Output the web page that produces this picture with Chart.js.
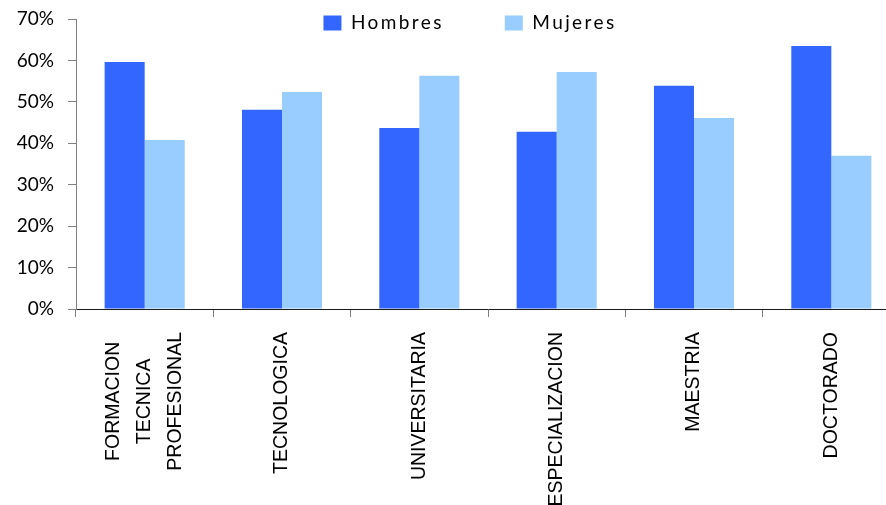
<!DOCTYPE html>
<html>
<head>
<meta charset="utf-8">
<script src="https://cdn.jsdelivr.net/npm/chart.js@4.4.1/dist/chart.umd.min.js"></script>
<style>
  html, body { margin: 0; padding: 0; background: #fff; overflow: hidden; }
  #wrap { width: 900px; height: 505px; }
</style>
</head>
<body>
<div id="wrap"><canvas id="chart" width="900" height="505"></canvas></div>
<script>
const categories = [
  ["FORMACION", "TECNICA", "PROFESIONAL"],
  "TECNOLOGICA",
  "UNIVERSITARIA",
  "ESPECIALIZACION",
  "MAESTRIA",
  "DOCTORADO"
]
const hombres = [59.6, 48.1, 43.7, 42.8, 53.9, 63.5]
const mujeres = [40.8, 52.4, 56.3, 57.2, 46.1, 37.0]
const yTicks = [0, 10, 20, 30, 40, 50, 60, 70]

const LEGEND_SPACING = "2.4px"

// the legend floats over the top of the plot, like the spreadsheet original
const legendInPlot = {
  id: "legendInPlot",
  beforeLayout(chart) {
    const legend = chart.legend
    if (!legend || legend._wrapped) return
    legend._wrapped = true
    const fit = legend.fit
    const draw = legend.draw
    legend.fit = function () {
      this.ctx.save()
      this.ctx.letterSpacing = LEGEND_SPACING
      fit.call(this)
      this.ctx.restore()
      this.height = 0
    }
    legend.draw = function (area) {
      this.ctx.save()
      this.ctx.letterSpacing = LEGEND_SPACING
      draw.call(this, area)
      this.ctx.restore()
    }
  },
  afterLayout(chart) {
    const legend = chart.legend
    const pad = legend.options.labels.padding
    const shift = 470 - (legend.left + legend.right) / 2
    legend.left += shift
    legend.right += shift
    legend.top = 13.5 - pad
    legend.bottom = legend.top + pad + 40
  }
}

// multi-line category label: lines centred on the tick and on each other
const centerStackedLabel = {
  id: "centerStackedLabel",
  beforeDraw(chart) {
    const ctx = chart.ctx
    chart.scales.x.getLabelItems().forEach(item => {
      if (!Array.isArray(item.label) || item._centered) return
      item._centered = true
      ctx.save()
      ctx.font = item.font.string
      const widest = Math.max(...item.label.map(t => ctx.measureText(t).width))
      ctx.restore()
      const lh = item.font.lineHeight
      const [tx, ty] = item.options.translation
      item.options.textAlign = "center"
      item.options.translation = [tx - lh * (item.label.length - 1) / 2, ty + widest / 2]
    })
  }
}

new Chart(document.getElementById("chart"), {
  type: "bar",
  data: {
    labels: categories,
    datasets: [
      { label: "Hombres", data: hombres, backgroundColor: "#3366ff" },
      { label: "Mujeres", data: mujeres, backgroundColor: "#99ccff" }
    ]
  },
  plugins: [legendInPlot, centerStackedLabel],
  options: {
    responsive: false,
    animation: false,
    devicePixelRatio: 1,
    layout: { padding: { top: 19, left: 0, right: 0, bottom: 0 } },
    datasets: { bar: { categoryPercentage: 0.583, barPercentage: 1 } },
    plugins: {
      legend: {
        position: "top",
        labels: {
          boxWidth: 18,
          boxHeight: 15,
          padding: 61,
          color: "#000",
          font: { family: "Lato", size: 19 }
        }
      },
      tooltip: { enabled: false }
    },
    scales: {
      x: {
        grid: { drawOnChartArea: false, tickLength: 8, color: "#808080", offset: true },
        border: { color: "#1a1a1a" },
        ticks: {
          minRotation: 90,
          maxRotation: 90,
          autoSkip: false,
          padding: 15,
          color: "#000",
          font: { family: "'Liberation Sans', Arial, sans-serif", size: 19.5, lineHeight: 1.6 }
        },
        afterFit: s => { s.height = 196 }
      },
      y: {
        min: 0,
        max: 70,
        grid: { drawOnChartArea: false, tickLength: 8, color: "#808080" },
        border: { color: "#808080" },
        ticks: {
          padding: 14,
          color: "#000",
          font: { family: "Lato", size: 19 },
          callback: v => `${v}%`
        },
        afterBuildTicks: s => { s.ticks = yTicks.map(value => ({ value })) },
        afterFit: s => {
          s.width = 76
          s.paddingTop = 0
          s.paddingBottom = 0
        }
      }
    }
  }
})
</script>
</body>
</html>
